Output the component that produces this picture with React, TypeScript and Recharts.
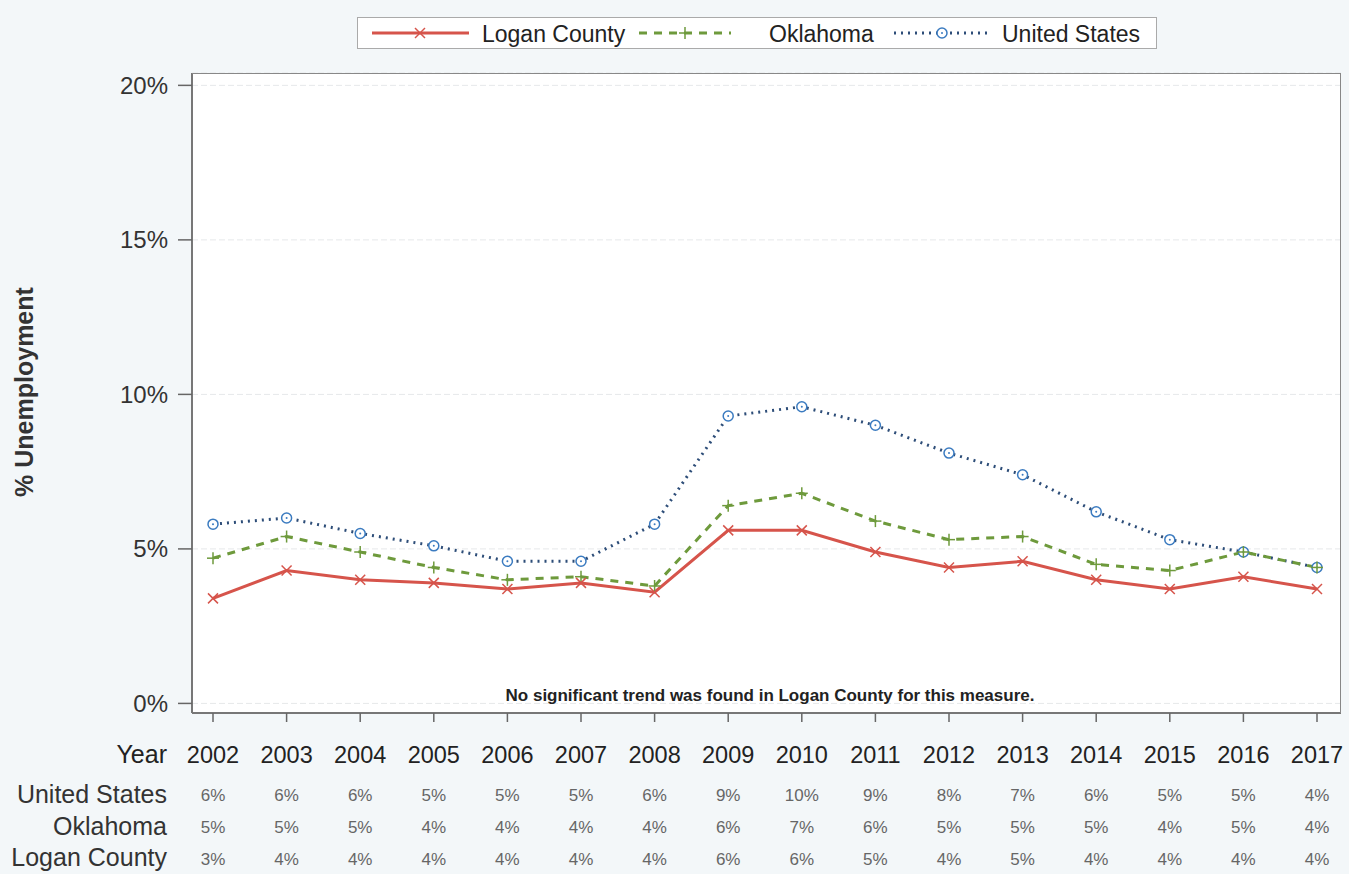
import { LineChart, Line, XAxis, YAxis, CartesianGrid } from "recharts";

const years = [2002, 2003, 2004, 2005, 2006, 2007, 2008, 2009, 2010, 2011, 2012, 2013, 2014, 2015, 2016, 2017];
const loganCounty = [3.4, 4.3, 4.0, 3.9, 3.7, 3.9, 3.6, 5.6, 5.6, 4.9, 4.4, 4.6, 4.0, 3.7, 4.1, 3.7];
const oklahoma = [4.7, 5.4, 4.9, 4.4, 4.0, 4.1, 3.8, 6.4, 6.8, 5.9, 5.3, 5.4, 4.5, 4.3, 4.9, 4.4];
const unitedStates = [5.8, 6.0, 5.5, 5.1, 4.6, 4.6, 5.8, 9.3, 9.6, 9.0, 8.1, 7.4, 6.2, 5.3, 4.9, 4.4];

// table rows printed under the axis
const usLabels = ["6%", "6%", "6%", "5%", "5%", "5%", "6%", "9%", "10%", "9%", "8%", "7%", "6%", "5%", "5%", "4%"];
const okLabels = ["5%", "5%", "5%", "4%", "4%", "4%", "4%", "6%", "7%", "6%", "5%", "5%", "5%", "4%", "5%", "4%"];
const loganLabels = ["3%", "4%", "4%", "4%", "4%", "4%", "4%", "6%", "6%", "5%", "4%", "5%", "4%", "4%", "4%", "4%"];
const yTicks = [0, 5, 10, 15, 20];

const data = years.map((year, i) => ({
  year,
  logan: loganCounty[i],
  ok: oklahoma[i],
  us: unitedStates[i],
}));

const FONT = '"Liberation Sans", Arial, sans-serif';
const RED = "#d6544b";
const GREEN = "#6e9a3c";
const BLUE_LINE = "#2d4d78";
const BLUE_MARK = "#3b7bc0";

const CrossDot = (p: any) => {
  const { cx, cy } = p;
  if (cx == null || cy == null) return null;
  return (
    <g stroke={RED} strokeWidth={1.5}>
      <line x1={cx - 5} y1={cy - 5} x2={cx + 5} y2={cy + 5} />
      <line x1={cx - 5} y1={cy + 5} x2={cx + 5} y2={cy - 5} />
    </g>
  );
};

const PlusDot = (p: any) => {
  const { cx, cy } = p;
  if (cx == null || cy == null) return null;
  return (
    <g stroke={GREEN} strokeWidth={1.5}>
      <line x1={cx - 6} y1={cy} x2={cx + 6} y2={cy} />
      <line x1={cx} y1={cy - 6} x2={cx} y2={cy + 6} />
    </g>
  );
};

const CircleDot = (p: any) => {
  const { cx, cy } = p;
  if (cx == null || cy == null) return null;
  return (
    <g>
      <circle cx={cx} cy={cy} r={5} fill="#fff" stroke={BLUE_MARK} strokeWidth={1.5} />
      <circle cx={cx} cy={cy} r={1} fill={BLUE_MARK} />
    </g>
  );
};

function YearTick(props: any) {
  const { x, y, payload } = props;
  const i = years.indexOf(payload.value);
  return (
    <g fontFamily={FONT}>
      {i === 0 && (
        <g textAnchor="end" fill="#333">
          <text x={x - 46} y={y + 39} fontSize={25} fill="#222">Year</text>
          <text x={x - 46} y={y + 79} fontSize={25}>United States</text>
          <text x={x - 46} y={y + 111} fontSize={25}>Oklahoma</text>
          <text x={x - 46} y={y + 142} fontSize={25}>Logan County</text>
        </g>
      )}
      <text x={x} y={y + 39} textAnchor="middle" fontSize={23.5} fill="#222">
        {payload.value}
      </text>
      <g textAnchor="middle" fontSize={17} fill="#666">
        <text x={x} y={y + 77}>{usLabels[i]}</text>
        <text x={x} y={y + 109}>{okLabels[i]}</text>
        <text x={x} y={y + 141}>{loganLabels[i]}</text>
      </g>
    </g>
  );
}

function LegendBox() {
  const text = { position: "absolute" as const, top: 3, fontSize: 23, color: "#222", fontFamily: FONT };
  return (
    <div
      style={{
        position: "absolute",
        left: 357,
        top: 17,
        width: 800,
        height: 32,
        border: "1px solid #aaa",
        background: "#fff",
        boxSizing: "border-box",
      }}
    >
      <svg width={800} height={32} style={{ position: "absolute", left: 0, top: 0 }}>
        <line x1={14} y1={15} x2={111} y2={15} stroke={RED} strokeWidth={3} />
        <CrossDot cx={62} cy={15} />
        <line x1={281} y1={15} x2={373} y2={15} stroke={GREEN} strokeWidth={3} strokeDasharray="8 7" />
        <PlusDot cx={327} cy={15} />
        <line x1={536} y1={15} x2={630} y2={15} stroke={BLUE_LINE} strokeWidth={3} strokeDasharray="2 5" />
        <CircleDot cx={584} cy={15} />
      </svg>
      <span style={{ ...text, left: 124 }}>Logan County</span>
      <span style={{ ...text, left: 411 }}>Oklahoma</span>
      <span style={{ ...text, left: 644 }}>United States</span>
    </div>
  );
}

export default function App() {
  return (
    <div
      style={{
        position: "absolute",
        left: 0,
        top: 0,
        width: 1349,
        height: 874,
        background: "#f3f7f9",
        fontFamily: FONT,
      }}
    >
      <LineChart
        width={1349}
        height={874}
        data={data}
        margin={{ top: 73, right: 8, bottom: 11, left: 132 }}
      >
        <CartesianGrid vertical={false} stroke="#e6e8ea" strokeDasharray="6 3" fill="#fff" />
        <XAxis
          dataKey="year"
          type="category"
          padding={{ left: 21, right: 24 }}
          height={150}
          tickSize={9}
          tickMargin={2}
          interval={0}
          axisLine={{ stroke: "#777", strokeWidth: 2 }}
          tickLine={{ stroke: "#666", strokeWidth: 1.5 }}
          tick={<YearTick />}
        />
        <YAxis
          width={60}
          domain={[-0.31, 20.4]}
          ticks={yTicks}
          allowDataOverflow
          tickFormatter={(v: number) => `${v}%`}
          tickSize={14}
          tickMargin={10}
          axisLine={{ stroke: "#777", strokeWidth: 2 }}
          tickLine={{ stroke: "#666", strokeWidth: 1.5 }}
          tick={{ fontSize: 24, fill: "#333", fontFamily: FONT }}
        />
        <Line
          dataKey="us"
          stroke={BLUE_LINE}
          strokeWidth={3}
          strokeDasharray="2 5"
          dot={<CircleDot />}
          activeDot={false}
          isAnimationActive={false}
        />
        <Line
          dataKey="ok"
          stroke={GREEN}
          strokeWidth={3}
          strokeDasharray="8 7"
          dot={<PlusDot />}
          activeDot={false}
          isAnimationActive={false}
        />
        <Line
          dataKey="logan"
          stroke={RED}
          strokeWidth={3}
          dot={<CrossDot />}
          activeDot={false}
          isAnimationActive={false}
        />
      </LineChart>
      {/* right and top border of the plot frame */}
      <div
        style={{
          position: "absolute",
          left: 192,
          top: 73,
          width: 1149,
          height: 640,
          border: "1px solid #888",
          borderLeft: "none",
          borderBottom: "none",
          boxSizing: "border-box",
          pointerEvents: "none",
        }}
      />
      <div
        style={{
          position: "absolute",
          left: 24,
          top: 392,
          transform: "translate(-50%, -50%) rotate(-90deg)",
          whiteSpace: "nowrap",
          fontSize: 25,
          fontWeight: "bold",
          color: "#333",
        }}
      >
        % Unemployment
      </div>
      <div
        style={{
          position: "absolute",
          left: 770,
          top: 686,
          transform: "translateX(-50%)",
          whiteSpace: "nowrap",
          fontSize: 17,
          fontWeight: "bold",
          color: "#222",
        }}
      >
        No significant trend was found in Logan County for this measure.
      </div>
      <LegendBox />
    </div>
  );
}
